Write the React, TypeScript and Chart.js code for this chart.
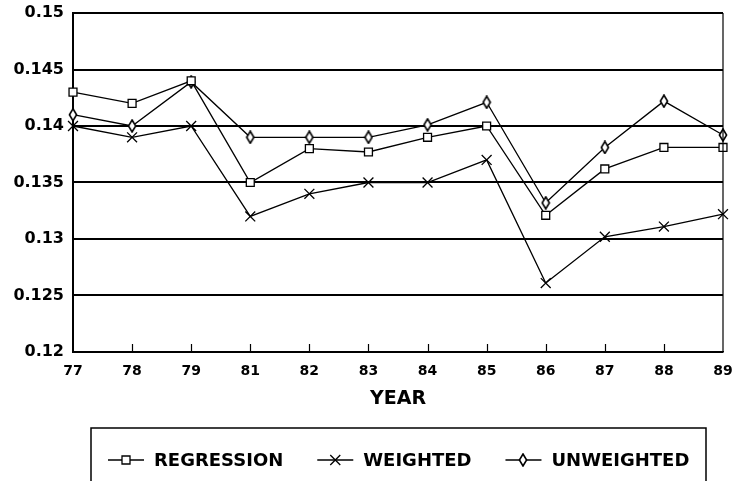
import React, { useEffect, useRef } from 'react';
import { Chart, registerables } from 'chart.js';

Chart.register(...registerables);

const years = ['77', '78', '79', '81', '82', '83', '84', '85', '86', '87', '88', '89'];
const regression = [0.143, 0.142, 0.144, 0.135, 0.138, 0.1377, 0.139, 0.14, 0.1321, 0.1362, 0.1381, 0.1381];
const weighted = [0.14, 0.139, 0.14, 0.132, 0.134, 0.135, 0.135, 0.137, 0.1261, 0.1302, 0.1311, 0.1322];
const unweighted = [0.141, 0.14, 0.1439, 0.139, 0.139, 0.139, 0.1401, 0.1421, 0.1332, 0.1381, 0.1422, 0.1392];
const seriesNames = ['REGRESSION', 'WEIGHTED', 'UNWEIGHTED'];
const axisTitle = 'YEAR';

const FONT = "'DejaVu Sans', sans-serif";

function makeDiamond(): HTMLCanvasElement {
  const c = document.createElement('canvas');
  c.width = 10;
  c.height = 14;
  const ctx = c.getContext('2d')!;
  ctx.beginPath();
  ctx.moveTo(5, 1);
  ctx.lineTo(8.6, 7);
  ctx.lineTo(5, 13);
  ctx.lineTo(1.4, 7);
  ctx.closePath();
  ctx.fillStyle = '#fff';
  ctx.fill();
  ctx.lineWidth = 1.6;
  ctx.strokeStyle = '#000';
  ctx.stroke();
  return c;
}

function drawMarker(ctx: CanvasRenderingContext2D, kind: number, x: number, y: number, diamond: HTMLCanvasElement) {
  ctx.save();
  ctx.strokeStyle = '#000';
  ctx.fillStyle = '#fff';
  ctx.lineWidth = 1.3;
  if (kind === 0) {
    ctx.beginPath();
    ctx.rect(x - 4, y - 4, 8, 8);
    ctx.fill();
    ctx.stroke();
  } else if (kind === 1) {
    ctx.beginPath();
    ctx.moveTo(x - 5, y - 5);
    ctx.lineTo(x + 5, y + 5);
    ctx.moveTo(x + 5, y - 5);
    ctx.lineTo(x - 5, y + 5);
    ctx.stroke();
  } else {
    ctx.drawImage(diamond, Math.round(x - diamond.width / 2), Math.round(y - diamond.height / 2));
  }
  ctx.restore();
}

export default function App() {
  const ref = useRef<HTMLCanvasElement | null>(null);

  useEffect(() => {
    if (!ref.current) return;
    const diamond = makeDiamond();

    const framePlugin = {
      id: 'framePlugin',
      afterDraw(chart: any) {
        const { ctx, chartArea } = chart;
        const xs = chart.scales.x;
        ctx.save();
        ctx.strokeStyle = '#000';
        // right border
        ctx.lineWidth = 1.2;
        ctx.beginPath();
        ctx.moveTo(chartArea.right, chartArea.top);
        ctx.lineTo(chartArea.right, chartArea.bottom);
        ctx.stroke();
        // inward tick marks on the x axis
        ctx.lineWidth = 1.2;
        for (let i = 1; i < years.length - 1; i++) {
          const px = Math.round(xs.getPixelForValue(i)) + 0.5;
          ctx.beginPath();
          ctx.moveTo(px, chartArea.bottom);
          ctx.lineTo(px, chartArea.bottom - 8);
          ctx.stroke();
        }

        // legend box
        const left = chartArea.left + 18;
        const right = chartArea.right - 17;
        const top = chart.height - 53;
        ctx.lineWidth = 1.5;
        ctx.beginPath();
        ctx.moveTo(left, chart.height + 5);
        ctx.lineTo(left, top);
        ctx.lineTo(right, top);
        ctx.lineTo(right, chart.height + 5);
        ctx.stroke();

        const y = top + 32;
        let x = left + 17;
        ctx.font = `bold 18px ${FONT}`;
        ctx.textBaseline = 'middle';
        ctx.textAlign = 'left';
        ctx.fillStyle = '#000';
        seriesNames.forEach((name, i) => {
          ctx.lineWidth = 1.3;
          ctx.beginPath();
          ctx.moveTo(x, y);
          ctx.lineTo(x + 36, y);
          ctx.stroke();
          drawMarker(ctx, i, x + 18, y, diamond);
          ctx.fillText(name, x + 46, y + 1);
          x += 46 + ctx.measureText(name).width + 34;
        });
        ctx.restore();
      },
    };

    const common = {
      borderColor: '#000',
      borderWidth: 1.3,
      pointBorderColor: '#000',
      pointBackgroundColor: '#fff',
      pointBorderWidth: 1.3,
      fill: false,
      tension: 0,
    };

    const chart = new Chart(ref.current, {
      type: 'line',
      data: {
        labels: years,
        datasets: [
          { ...common, label: seriesNames[0], data: regression, pointStyle: 'rect', pointRadius: 5.6 },
          { ...common, label: seriesNames[1], data: weighted, pointStyle: 'crossRot', pointRadius: 7 },
          { ...common, label: seriesNames[2], data: unweighted, pointStyle: diamond as any, pointRadius: 5 },
        ],
      },
      options: {
        responsive: false,
        animation: false,
        events: [],
        font: { family: FONT },
        layout: { padding: { top: 13, right: 14, bottom: 71, left: 0 } },
        plugins: {
          legend: { display: false },
          tooltip: { enabled: false },
        },
        scales: {
          x: {
            type: 'category',
            offset: false,
            grid: { display: false, drawTicks: false },
            border: { display: true, color: '#000', width: 1.5 },
            ticks: {
              color: '#000',
              font: { family: FONT, size: 14, weight: 'bold' },
              padding: 11,
              maxRotation: 0,
              autoSkip: false,
            },
            title: {
              display: true,
              text: axisTitle,
              color: '#000',
              font: { family: FONT, size: 19, weight: 'bold' },
              padding: { top: 0, bottom: 0 },
            },
            afterFit: (s: any) => {
              s.height = 58;
              s.paddingLeft = 0;
              s.paddingRight = 0;
            },
          },
          y: {
            min: 0.12,
            max: 0.15,
            ticks: {
              stepSize: 0.005,
              color: '#000',
              font: { family: FONT, size: 16, weight: 'bold' },
              padding: 9,
              callback: (v: any) => String(parseFloat(Number(v).toFixed(3))),
            },
            grid: { color: '#000', lineWidth: 2, drawTicks: false },
            border: { color: '#000', width: 2 },
            afterFit: (s: any) => {
              s.width = 73;
              s.paddingTop = 0;
              s.paddingBottom = 0;
            },
          },
        },
      } as any,
      plugins: [framePlugin],
    });

    return () => chart.destroy();
  }, []);

  return (
    <div style={{ position: 'fixed', left: 0, top: 0, width: 737, height: 481, background: '#fff' }}>
      <canvas ref={ref} width={737} height={481} style={{ display: 'block' }} />
    </div>
  );
}
